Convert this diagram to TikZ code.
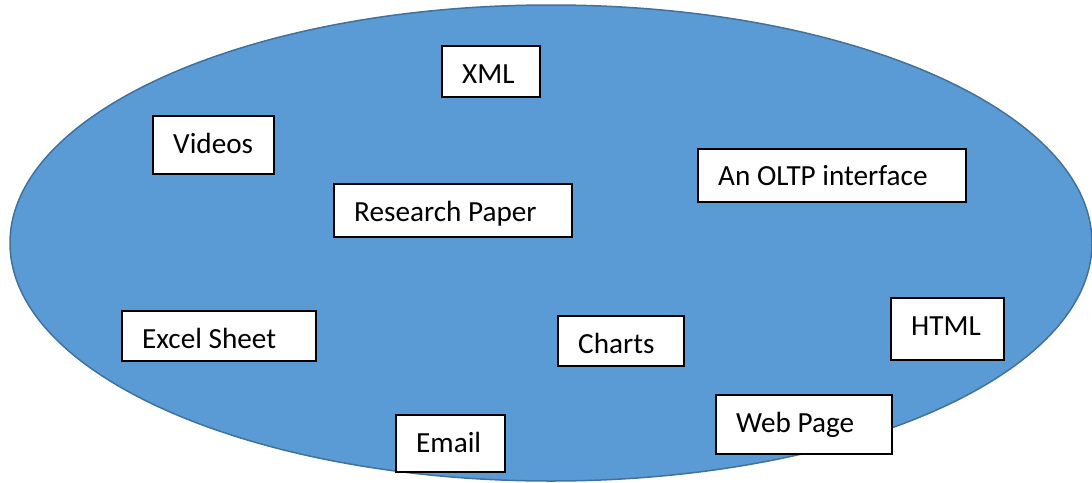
\documentclass[tikz,border=0pt]{standalone}
\usepackage{fontspec}
\setmainfont{Carlito}
\definecolor{ellfill}{HTML}{5B9BD5}
\definecolor{elldraw}{HTML}{41719C}
\tikzset{
  box/.style={draw=black, fill=white, line width=1.5pt, rectangle, inner sep=0pt, anchor=north west},
  lbl/.style={anchor=base west, inner sep=0pt, font=\fontsize{29.2}{35}\selectfont, xshift=21pt, yshift=-38.5pt, label distance=0pt},
}
\begin{document}
\begin{tikzpicture}[x=1pt, y=-1pt]
\useasboundingbox (0,0) rectangle (1092,482);
\begin{scope}
\clip (0,0) rectangle (1092,482);
\draw[fill=ellfill, draw=elldraw, line width=1.5pt] (551,243) ellipse [x radius=541, y radius=238];
\end{scope}
\node[box, minimum width=98pt, minimum height=51pt, label={[lbl]north west:XML}] (xml) at (441,45) {};
\node[box, minimum width=121pt, minimum height=58pt, label={[lbl]north west:Videos}] (videos) at (152,115) {};
\node[box, minimum width=238pt, minimum height=53pt, label={[lbl]north west:Research Paper}] (paper) at (333,183) {};
\node[box, minimum width=268pt, minimum height=53pt, label={[lbl, yshift=1.5pt]north west:An OLTP interface}] (oltp) at (697,148) {};
\node[box, minimum width=194pt, minimum height=50pt, label={[lbl]north west:Excel Sheet}] (excel) at (121,310) {};
\node[box, minimum width=126pt, minimum height=50pt, label={[lbl]north west:Charts}] (charts) at (557,315) {};
\node[box, minimum width=113pt, minimum height=62pt, label={[lbl]north west:HTML}] (html) at (890,297) {};
\node[box, minimum width=176pt, minimum height=59pt, label={[lbl]north west:Web Page}] (web) at (715,394) {};
\node[box, minimum width=109pt, minimum height=57pt, label={[lbl]north west:Email}] (email) at (395,414) {};
\end{tikzpicture}
\end{document}
